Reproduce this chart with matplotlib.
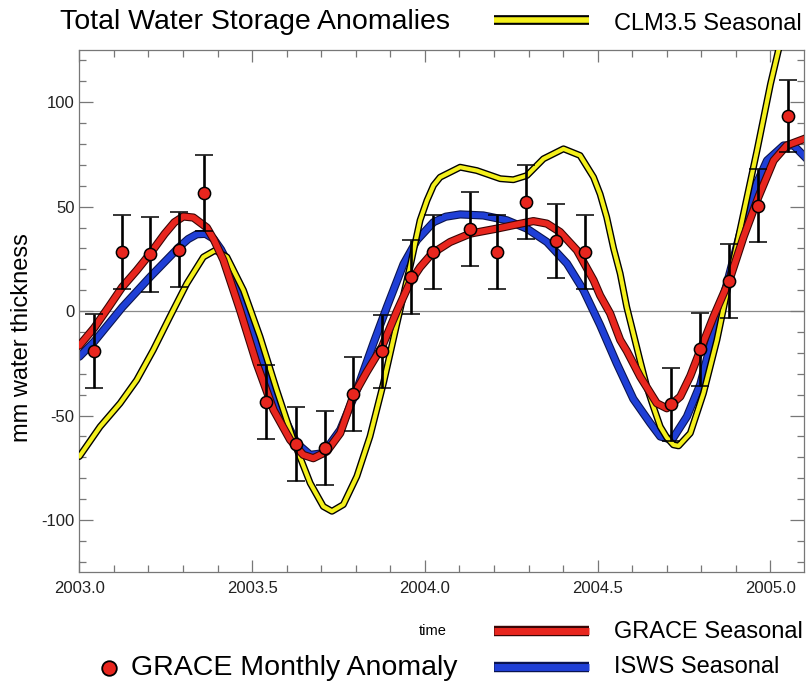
import matplotlib
matplotlib.use("Agg")
import matplotlib.pyplot as plt
from matplotlib import patheffects as pe
from matplotlib.lines import Line2D
from matplotlib.ticker import MultipleLocator, FormatStrFormatter

plt.rcParams['font.family'] = ['Liberation Sans', 'DejaVu Sans']
plt.rcParams['axes.unicode_minus'] = False

# GRACE monthly anomalies (mm) with error bars
grace_t = [2003.043, 2003.124, 2003.205, 2003.289, 2003.360, 2003.540, 2003.627,
           2003.710, 2003.793, 2003.876, 2003.959, 2004.022, 2004.131, 2004.209,
           2004.292, 2004.380, 2004.463, 2004.713, 2004.797, 2004.881, 2004.965,
           2005.050]
grace_mm = [-19.0, 28.3, 27.2, 29.5, 56.7, -43.5, -63.5, -65.3, -39.8, -19.3, 16.4,
            28.2, 39.3, 28.2, 52.2, 33.6, 28.2, -44.6, -18.3, 14.5, 50.5, 93.4]
grace_err = [17.6, 17.8, 17.8, 17.8, 18.2, 17.7, 17.7, 17.7, 17.7, 17.6, 17.8,
             17.8, 17.9, 17.8, 17.8, 17.6, 17.7, 17.5, 17.5, 17.6, 17.6, 17.0]

# seasonal curves, read at irregular times
grace_seas_t = [2003.000, 2003.043, 2003.085, 2003.124, 2003.166, 2003.205, 2003.247,
                2003.275, 2003.301, 2003.330, 2003.369, 2003.390, 2003.417, 2003.465,
                2003.513, 2003.562, 2003.610, 2003.648, 2003.677, 2003.716, 2003.755,
                2003.793, 2003.832, 2003.876, 2003.919, 2003.957, 2003.986, 2004.020,
                2004.073, 2004.131, 2004.208, 2004.266, 2004.314, 2004.353, 2004.391,
                2004.440, 2004.488, 2004.507, 2004.536, 2004.565, 2004.584, 2004.623,
                2004.671, 2004.700, 2004.739, 2004.768, 2004.797, 2004.835, 2004.881,
                2004.922, 2004.965, 2005.009, 2005.047, 2005.105]
grace_seas_mm = [-16.5, -8.0, 2.0, 11.5, 19.5, 27.5, 37.0, 42.5, 45.3, 44.8, 40.0,
                 34.0, 24.4, 0.5, -25.0, -47.3, -61.6, -68.8, -70.4, -67.2, -58.4,
                 -40.5, -29.0, -17.0, 0.0, 13.8, 21.0, 27.5, 33.1, 37.1, 39.5, 41.5,
                 43.1, 41.9, 37.9, 29.1, 14.8, 7.5, -1.1, -13.8, -19.0, -31.4, -44.1,
                 -46.5, -40.9, -31.0, -18.6, -2.7, 14.8, 35.5, 54.6, 72.1, 79.3, 82.9]

isws_t = [2003.000, 2003.043, 2003.124, 2003.205, 2003.289, 2003.315, 2003.340,
          2003.365, 2003.388, 2003.410, 2003.436, 2003.485, 2003.533, 2003.581,
          2003.629, 2003.668, 2003.706, 2003.755, 2003.803, 2003.851, 2003.890,
          2003.938, 2003.977, 2004.025, 2004.060, 2004.102, 2004.169, 2004.237,
          2004.295, 2004.353, 2004.411, 2004.459, 2004.507, 2004.555, 2004.603,
          2004.652, 2004.681, 2004.715, 2004.758, 2004.797, 2004.835, 2004.874,
          2004.912, 2004.951, 2004.990, 2005.038, 2005.067, 2005.105]
isws_mm = [-21.8, -14.6, 1.8, 16.4, 30.7, 34.5, 36.8, 37.0, 34.7, 29.5, 21.2, 0.5,
           -25.0, -47.3, -63.2, -68.8, -68.0, -56.8, -37.7, -15.4, 2.0, 22.5, 34.0,
           42.6, 45.2, 46.3, 45.8, 43.5, 39.5, 33.1, 22.8, 10.0, -6.7, -25.0, -42.0,
           -53.6, -60.0, -61.6, -50.5, -35.0, -10.6, 13.2, 37.1, 57.8, 72.1, 79.3,
           79.3, 72.9]

clm_t = [2003.000, 2003.060, 2003.118, 2003.166, 2003.214, 2003.262, 2003.311,
         2003.359, 2003.393, 2003.427, 2003.475, 2003.523, 2003.571, 2003.619,
         2003.668, 2003.706, 2003.731, 2003.764, 2003.803, 2003.841, 2003.880,
         2003.919, 2003.957, 2003.986, 2004.006, 2004.025, 2004.044, 2004.102,
         2004.150, 2004.218, 2004.256, 2004.295, 2004.343, 2004.401, 2004.449,
         2004.488, 2004.507, 2004.526, 2004.546, 2004.565, 2004.584, 2004.603,
         2004.623, 2004.642, 2004.661, 2004.681, 2004.700, 2004.719, 2004.734,
         2004.768, 2004.806, 2004.845, 2004.883, 2004.922, 2004.961, 2005.000,
         2005.026]
clm_mm = [-69.6, -55.3, -44.1, -33.0, -18.6, -2.7, 13.2, 25.9, 29.1, 25.9, 10.0,
          -12.3, -37.7, -61.6, -82.3, -93.5, -95.8, -92.6, -79.1, -60.0, -34.5,
          -5.9, 21.2, 43.5, 53.0, 60.2, 64.1, 68.9, 67.3, 63.4, 62.9, 64.9, 72.9,
          77.7, 74.5, 64.1, 56.0, 45.0, 30.0, 18.0, 2.0, -10.6, -24.0, -36.2, -45.7,
          -55.3, -60.5, -64.0, -64.5, -58.4, -39.3, -13.8, 16.4, 46.7, 76.9, 108.7,
          127.0]

RED = '#e8261e'
BLUE = '#1f3fd6'
YELLOW = '#f4f01c'

fig = plt.figure(figsize=(8.07, 6.83), dpi=100)
ax = fig.add_axes([0.0983, 0.1621, 0.898, 0.7647])


def outlined(color, inner, outer, edge='black'):
    return dict(color=color, lw=inner, solid_capstyle='round', solid_joinstyle='round',
                path_effects=[pe.Stroke(linewidth=outer, foreground=edge,
                                        joinstyle='round', capstyle='round'),
                              pe.Normal()])


ax.axhline(0, color='#8a8a8a', lw=0.9, zorder=1)
ax.plot(isws_t, isws_mm, zorder=2, **outlined(BLUE, 4.3, 5.9, '#0a1450'))
ax.plot(clm_t, clm_mm, zorder=3, **outlined(YELLOW, 3.0, 5.0))
ax.plot(grace_seas_t, grace_seas_mm, zorder=4, **outlined(RED, 4.3, 5.9, '#3a0505'))
ax.errorbar(grace_t, grace_mm, yerr=grace_err, fmt='o', color='black', ecolor='black',
            elinewidth=1.9, capsize=6.5, capthick=1.9, mfc=RED, mec='black',
            ms=8.8, mew=1.1, zorder=6)

ax.set_xlim(2003.0, 2005.097)
ax.set_ylim(-125, 125)
ax.xaxis.set_major_locator(MultipleLocator(0.5))
ax.xaxis.set_minor_locator(MultipleLocator(0.1))
ax.xaxis.set_major_formatter(FormatStrFormatter('%.1f'))
ax.yaxis.set_major_locator(MultipleLocator(50))
ax.yaxis.set_minor_locator(MultipleLocator(10))
ax.tick_params(which='both', direction='in', top=True, right=True, color='#777777',
               width=0.9, labelsize=12, labelcolor='#222222')
ax.tick_params(axis='x', which='major', length=8.5, pad=6.5)
ax.tick_params(axis='y', which='major', length=10, pad=3.5)
ax.tick_params(which='minor', length=4.8)
for s in ax.spines.values():
    s.set_color('#777777')
    s.set_linewidth(0.9)

W, H = 807.0, 683.0


def fx(px):
    return px / W


def fy(py):
    return 1 - py / H


fig.text(fx(22), fy(338), 'mm water thickness', rotation=90, fontsize=17,
         ha='center', va='center')

# header and legend rows
fig.text(fx(60), fy(29.3), 'Total Water Storage Anomalies', fontsize=20.5, va='baseline')
fig.text(fx(614), fy(29.5), 'CLM3.5 Seasonal', fontsize=17, va='baseline')
fig.text(fx(447), fy(635), 'time', fontsize=10.5, ha='right', va='baseline')
fig.text(fx(614), fy(638.5), 'GRACE Seasonal', fontsize=17, va='baseline')
fig.text(fx(614), fy(673), 'ISWS Seasonal', fontsize=17, va='baseline')
fig.text(fx(131), fy(675), 'GRACE Monthly Anomaly', fontsize=20.5, va='baseline')

for yc, col, inner, outer, edge in [(19.5, YELLOW, 4.0, 7.0, 'black'),
                                    (630.5, RED, 5.0, 7.5, '#3a0505'),
                                    (666.5, BLUE, 5.0, 7.5, '#0a1450')]:
    fig.add_artist(Line2D([fx(494), fx(589)], [fy(yc), fy(yc)], color=col, lw=inner,
                          solid_capstyle='butt',
                          path_effects=[pe.Stroke(linewidth=outer, foreground=edge,
                                                  capstyle='butt'), pe.Normal()]))
fig.add_artist(Line2D([fx(109)], [fy(668)], marker='o', ms=10.5, mfc=RED, mec='black',
                      mew=1.3, linestyle='none'))

fig.savefig('out.png', dpi=100)
